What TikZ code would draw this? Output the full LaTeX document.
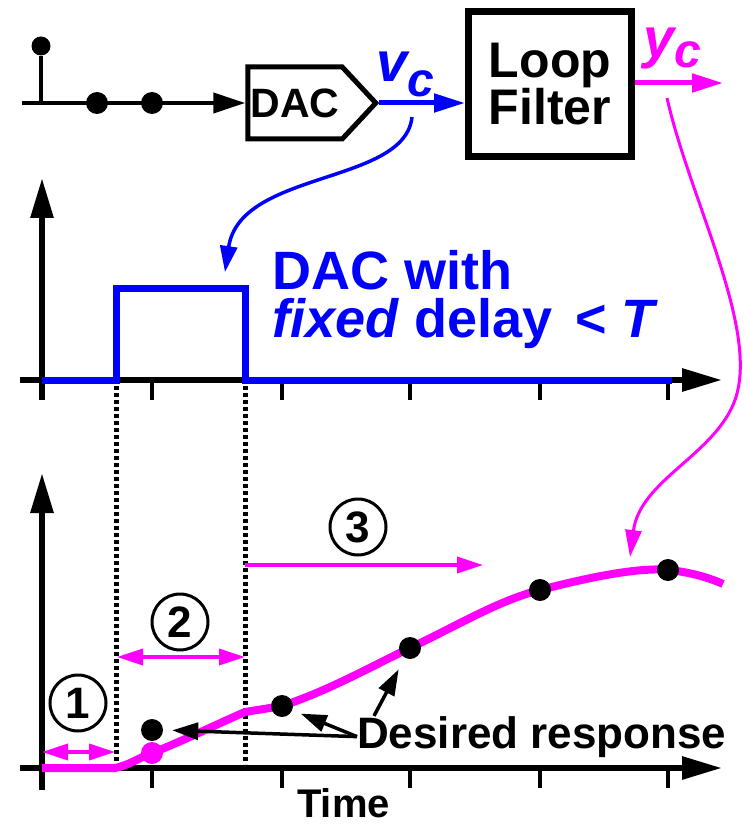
\documentclass[tikz,border=0pt]{standalone}
\usepackage{fontspec}
\setmainfont{Liberation Sans}
\usetikzlibrary{arrows.meta,calc,positioning,shapes.symbols}
\definecolor{PlotBlue}{RGB}{0,0,255}
\definecolor{PlotMagenta}{RGB}{255,0,255}

\begin{document}
\begin{tikzpicture}[x=1pt, y=-1pt,
    axis/.style={line width=6pt, -{Triangle[length=40pt,width=22pt]}},
    tick/.style={line width=4pt},
    dot/.style={circle, fill=black, inner sep=0pt, minimum size=22pt},
    numlbl/.style={circle, draw, line width=3pt, minimum size=56pt, inner sep=0pt, font=\fontsize{44}{44}\selectfont\bfseries},
    dblarr/.style={PlotMagenta, line width=3.5pt, {Triangle[length=26pt,width=16pt]}-{Triangle[length=26pt,width=16pt]}},
    thinarr/.style={line width=3.5pt, -{Triangle[length=26pt,width=17pt]}},
    guide/.style={line width=5pt, dash pattern=on 4pt off 3pt}]
    \useasboundingbox (0,0) rectangle (744,826);

    % sample sequence into the DAC and loop filter
    \node[dot, minimum size=19pt] (s0) at (41,46) {};
    \node[dot] (s1) at (97,103) {};
    \node[dot] (s2) at (152,103) {};
    \coordinate (sigstart) at (22,103);
    \node[signal, signal to=east, signal pointer angle=94, draw, line width=5pt, minimum width=128pt, minimum height=72pt, inner sep=0pt, font=\fontsize{41}{41}\selectfont\bfseries] (dac) at (295,103) {DAC};
    \draw[line width=4pt] (s0) -- (s0 |- sigstart);
    \draw[line width=4pt, -{Triangle[length=32pt,width=20pt]}] (sigstart) -- (dac.west);
    \node[draw, line width=7pt, minimum width=163pt, minimum height=145pt, align=center, font=\fontsize{50}{44}\selectfont\bfseries] (filter) at (550,84) {Loop\\Filter};
    \draw[PlotBlue, line width=5pt, -{Triangle[length=31pt,width=18pt]}] (dac.east) -- (filter.west |- dac.east);
    \coordinate (ycend) at (723,83);
    \draw[PlotMagenta, line width=5pt, -{Triangle[length=31pt,width=18pt]}] (filter.east |- ycend) -- (ycend);
    \node[PlotBlue, anchor=base west, inner sep=0pt] (vc) at (376,82) {\fontsize{56}{56}\selectfont\bfseries\itshape v\raisebox{-15pt}{\fontsize{48}{48}\selectfont c}};
    \node[PlotMagenta, anchor=base west, inner sep=0pt] (yc) at (643,58) {\fontsize{56}{56}\selectfont\bfseries\itshape y\raisebox{-10pt}{\fontsize{48}{48}\selectfont c}};

    % DAC output pulse
    \draw[axis] (42,400) -- (42,178);
    \draw[axis] (20,380) -- (722,380);
    \foreach \t in {152,282,410,540,668} {
        \draw[tick] (\t,380) -- (\t,400);
        \draw[tick] (\t,768) -- (\t,788);
    }
    \draw[PlotBlue, line width=7pt] (42,380) -- (116,380) -- (116,288) -- (245,288) -- (245,380) -- (672,380);
    \node[PlotBlue, anchor=north west, inner sep=0pt, align=left, font=\fontsize{54}{48}\selectfont\bfseries] (dacnote) at (272,250) {DAC with\\\textit{fixed} delay\hspace{8pt} < \textit{T}};

    % loop filter response
    \draw[axis] (42,790) -- (42,473);
    \draw[axis] (20,768) -- (722,768);
    \draw[guide] (116,386) -- (116,764);
    \draw[guide] (245,386) -- (245,764);
    \draw[PlotMagenta, line width=8pt] (42,768) -- (115,768) .. controls (130,765) and (140,757) .. (152,753)
        .. controls (185,740) and (215,725) .. (245,712) -- (282,706)
        .. controls (330,690) and (370,667) .. (410,648) .. controls (460,624) and (500,600) .. (540,590)
        .. controls (590,577) and (640,567) .. (668,570) .. controls (690,572) and (710,578) .. (723,584);
    \node[dot, fill=PlotMagenta] (mA) at (152,753) {};
    \node[dot] (dA) at (152,730) {};
    \node[dot] (dB) at (282,706) {};
    \node[dot] (dC) at (410,648) {};
    \node[dot] (dD) at (540,590) {};
    \node[dot] (dE) at (668,570) {};

    \node[numlbl] (n1) at (78,703) {1};
    \draw[dblarr] (42,752) -- (115,752);
    \node[numlbl] (n2) at (180,622) {2};
    \draw[dblarr] (117,657) -- (245,657);
    \node[numlbl] (n3) at (358,527) {3};
    \draw[PlotMagenta, line width=3.5pt, -{Triangle[length=26pt,width=16pt]}] (245,565) -- (483,565);

    \node[anchor=base west, inner sep=0pt, font=\fontsize{44}{44}\selectfont\bfseries] (desired) at (357,748) {Desired response};
    \draw[thinarr, shorten >=9pt] (desired.west) -- (dA.east);
    \draw[thinarr, shorten >=9pt] (desired.west) -- (dB);
    \draw[thinarr, shorten >=13pt] ([xshift=17pt]desired.north west) -- (dC);
    \node[anchor=base west, inner sep=0pt, font=\fontsize{40}{40}\selectfont\bfseries] (time) at (297,817) {Time};

    % where each signal shows up
    \coordinate (vcdrop) at (412,117);
    \coordinate (pulsetip) at (225,272);
    \draw[PlotBlue, line width=3.5pt, -{Triangle[length=26pt,width=17pt]}] (vcdrop) .. controls (405,185) and (240,170) .. (pulsetip);
    \coordinate (ycdrop) at (667,98);
    \coordinate (curvetip) at (630,557);
    \draw[PlotMagenta, line width=3pt, -{Triangle[length=27pt,width=16pt]}] (ycdrop) .. controls (690,200) and (760,330) .. (735,400) .. controls (715,455) and (640,480) .. (curvetip);
\end{tikzpicture}
\end{document}
